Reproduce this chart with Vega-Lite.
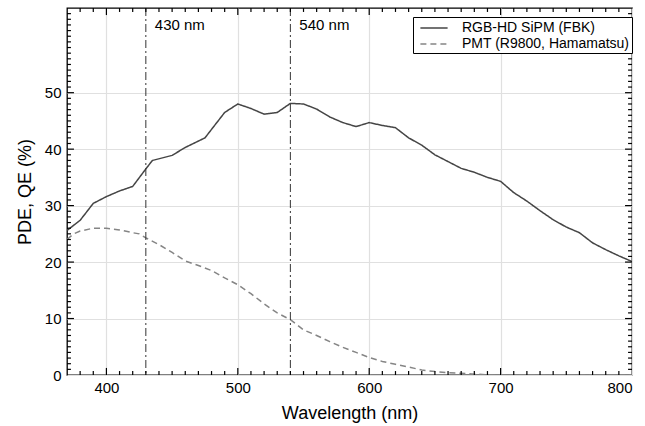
{
  "$schema": "https://vega.github.io/schema/vega-lite/v6.json",
  "width": 565,
  "height": 367,
  "autosize": {"type": "none"},
  "padding": {"left": 67, "top": 8, "right": 13, "bottom": 51},
  "config": {
    "font": "Liberation Sans",
    "view": {"stroke": "black", "strokeWidth": 1.3},
    "axis": {
      "domain": false,
      "labelColor": "black",
      "titleColor": "black",
      "labelFont": "Liberation Sans",
      "titleFont": "Liberation Sans",
      "labelFontSize": 15,
      "titleFontSize": 18,
      "titleFontWeight": "normal",
      "gridColor": "#e0e0e0",
      "gridWidth": 1.2
    }
  },
  "datasets": {
    "curves": [
      {"wavelength": 370, "value": 25.6, "series": "RGB-HD SiPM (FBK)"},
      {"wavelength": 380, "value": 27.4, "series": "RGB-HD SiPM (FBK)"},
      {"wavelength": 390, "value": 30.4, "series": "RGB-HD SiPM (FBK)"},
      {"wavelength": 400, "value": 31.6, "series": "RGB-HD SiPM (FBK)"},
      {"wavelength": 410, "value": 32.6, "series": "RGB-HD SiPM (FBK)"},
      {"wavelength": 420, "value": 33.4, "series": "RGB-HD SiPM (FBK)"},
      {"wavelength": 430, "value": 36.5, "series": "RGB-HD SiPM (FBK)"},
      {"wavelength": 435, "value": 38.0, "series": "RGB-HD SiPM (FBK)"},
      {"wavelength": 450, "value": 38.9, "series": "RGB-HD SiPM (FBK)"},
      {"wavelength": 460, "value": 40.3, "series": "RGB-HD SiPM (FBK)"},
      {"wavelength": 475, "value": 42.0, "series": "RGB-HD SiPM (FBK)"},
      {"wavelength": 490, "value": 46.5, "series": "RGB-HD SiPM (FBK)"},
      {"wavelength": 500, "value": 48.0, "series": "RGB-HD SiPM (FBK)"},
      {"wavelength": 510, "value": 47.2, "series": "RGB-HD SiPM (FBK)"},
      {"wavelength": 520, "value": 46.2, "series": "RGB-HD SiPM (FBK)"},
      {"wavelength": 530, "value": 46.5, "series": "RGB-HD SiPM (FBK)"},
      {"wavelength": 540, "value": 48.1, "series": "RGB-HD SiPM (FBK)"},
      {"wavelength": 550, "value": 48.0, "series": "RGB-HD SiPM (FBK)"},
      {"wavelength": 560, "value": 47.1, "series": "RGB-HD SiPM (FBK)"},
      {"wavelength": 570, "value": 45.7, "series": "RGB-HD SiPM (FBK)"},
      {"wavelength": 580, "value": 44.7, "series": "RGB-HD SiPM (FBK)"},
      {"wavelength": 590, "value": 44.0, "series": "RGB-HD SiPM (FBK)"},
      {"wavelength": 600, "value": 44.7, "series": "RGB-HD SiPM (FBK)"},
      {"wavelength": 610, "value": 44.2, "series": "RGB-HD SiPM (FBK)"},
      {"wavelength": 620, "value": 43.8, "series": "RGB-HD SiPM (FBK)"},
      {"wavelength": 630, "value": 42.0, "series": "RGB-HD SiPM (FBK)"},
      {"wavelength": 640, "value": 40.7, "series": "RGB-HD SiPM (FBK)"},
      {"wavelength": 650, "value": 39.0, "series": "RGB-HD SiPM (FBK)"},
      {"wavelength": 660, "value": 37.8, "series": "RGB-HD SiPM (FBK)"},
      {"wavelength": 670, "value": 36.6, "series": "RGB-HD SiPM (FBK)"},
      {"wavelength": 680, "value": 35.9, "series": "RGB-HD SiPM (FBK)"},
      {"wavelength": 690, "value": 35.0, "series": "RGB-HD SiPM (FBK)"},
      {"wavelength": 700, "value": 34.3, "series": "RGB-HD SiPM (FBK)"},
      {"wavelength": 710, "value": 32.3, "series": "RGB-HD SiPM (FBK)"},
      {"wavelength": 720, "value": 30.8, "series": "RGB-HD SiPM (FBK)"},
      {"wavelength": 730, "value": 29.1, "series": "RGB-HD SiPM (FBK)"},
      {"wavelength": 740, "value": 27.5, "series": "RGB-HD SiPM (FBK)"},
      {"wavelength": 750, "value": 26.2, "series": "RGB-HD SiPM (FBK)"},
      {"wavelength": 760, "value": 25.2, "series": "RGB-HD SiPM (FBK)"},
      {"wavelength": 770, "value": 23.4, "series": "RGB-HD SiPM (FBK)"},
      {"wavelength": 780, "value": 22.2, "series": "RGB-HD SiPM (FBK)"},
      {"wavelength": 790, "value": 21.1, "series": "RGB-HD SiPM (FBK)"},
      {"wavelength": 800, "value": 20.1, "series": "RGB-HD SiPM (FBK)"},
      {"wavelength": 370, "value": 24.0, "series": "PMT (R9800, Hamamatsu)"},
      {"wavelength": 375, "value": 25.0, "series": "PMT (R9800, Hamamatsu)"},
      {"wavelength": 380, "value": 25.5, "series": "PMT (R9800, Hamamatsu)"},
      {"wavelength": 390, "value": 26.0, "series": "PMT (R9800, Hamamatsu)"},
      {"wavelength": 400, "value": 26.0, "series": "PMT (R9800, Hamamatsu)"},
      {"wavelength": 410, "value": 25.7, "series": "PMT (R9800, Hamamatsu)"},
      {"wavelength": 420, "value": 25.2, "series": "PMT (R9800, Hamamatsu)"},
      {"wavelength": 425, "value": 25.0, "series": "PMT (R9800, Hamamatsu)"},
      {"wavelength": 430, "value": 24.3, "series": "PMT (R9800, Hamamatsu)"},
      {"wavelength": 440, "value": 23.1, "series": "PMT (R9800, Hamamatsu)"},
      {"wavelength": 450, "value": 21.7, "series": "PMT (R9800, Hamamatsu)"},
      {"wavelength": 460, "value": 20.2, "series": "PMT (R9800, Hamamatsu)"},
      {"wavelength": 470, "value": 19.4, "series": "PMT (R9800, Hamamatsu)"},
      {"wavelength": 480, "value": 18.5, "series": "PMT (R9800, Hamamatsu)"},
      {"wavelength": 490, "value": 17.2, "series": "PMT (R9800, Hamamatsu)"},
      {"wavelength": 500, "value": 16.0, "series": "PMT (R9800, Hamamatsu)"},
      {"wavelength": 510, "value": 14.4, "series": "PMT (R9800, Hamamatsu)"},
      {"wavelength": 520, "value": 12.6, "series": "PMT (R9800, Hamamatsu)"},
      {"wavelength": 530, "value": 11.0, "series": "PMT (R9800, Hamamatsu)"},
      {"wavelength": 540, "value": 9.8, "series": "PMT (R9800, Hamamatsu)"},
      {"wavelength": 550, "value": 8.0, "series": "PMT (R9800, Hamamatsu)"},
      {"wavelength": 560, "value": 7.0, "series": "PMT (R9800, Hamamatsu)"},
      {"wavelength": 570, "value": 5.9, "series": "PMT (R9800, Hamamatsu)"},
      {"wavelength": 580, "value": 4.9, "series": "PMT (R9800, Hamamatsu)"},
      {"wavelength": 590, "value": 4.0, "series": "PMT (R9800, Hamamatsu)"},
      {"wavelength": 600, "value": 3.1, "series": "PMT (R9800, Hamamatsu)"},
      {"wavelength": 610, "value": 2.4, "series": "PMT (R9800, Hamamatsu)"},
      {"wavelength": 620, "value": 1.9, "series": "PMT (R9800, Hamamatsu)"},
      {"wavelength": 630, "value": 1.4, "series": "PMT (R9800, Hamamatsu)"},
      {"wavelength": 640, "value": 0.9, "series": "PMT (R9800, Hamamatsu)"},
      {"wavelength": 650, "value": 0.6, "series": "PMT (R9800, Hamamatsu)"},
      {"wavelength": 660, "value": 0.4, "series": "PMT (R9800, Hamamatsu)"},
      {"wavelength": 670, "value": 0.3, "series": "PMT (R9800, Hamamatsu)"},
      {"wavelength": 680, "value": 0.15, "series": "PMT (R9800, Hamamatsu)"},
      {"wavelength": 690, "value": 0.05, "series": "PMT (R9800, Hamamatsu)"},
      {"wavelength": 700, "value": 0.0, "series": "PMT (R9800, Hamamatsu)"},
      {"wavelength": 750, "value": 0.0, "series": "PMT (R9800, Hamamatsu)"},
      {"wavelength": 800, "value": 0.0, "series": "PMT (R9800, Hamamatsu)"}
    ],
    "vlines": [
      {"wavelength": 430, "label": "430 nm"},
      {"wavelength": 540, "label": "540 nm"}
    ],
    "xticks": [
      {"wavelength": 380, "kind": "minor"}, {"wavelength": 390, "kind": "minor"}, {"wavelength": 400, "kind": "major"},
      {"wavelength": 410, "kind": "minor"}, {"wavelength": 420, "kind": "minor"}, {"wavelength": 430, "kind": "minor"},
      {"wavelength": 440, "kind": "minor"}, {"wavelength": 450, "kind": "minor"}, {"wavelength": 460, "kind": "minor"},
      {"wavelength": 470, "kind": "minor"}, {"wavelength": 480, "kind": "minor"}, {"wavelength": 490, "kind": "minor"},
      {"wavelength": 500, "kind": "major"}, {"wavelength": 510, "kind": "minor"}, {"wavelength": 520, "kind": "minor"},
      {"wavelength": 530, "kind": "minor"}, {"wavelength": 540, "kind": "minor"}, {"wavelength": 550, "kind": "minor"},
      {"wavelength": 560, "kind": "minor"}, {"wavelength": 570, "kind": "minor"}, {"wavelength": 580, "kind": "minor"},
      {"wavelength": 590, "kind": "minor"}, {"wavelength": 600, "kind": "major"}, {"wavelength": 610, "kind": "minor"},
      {"wavelength": 620, "kind": "minor"}, {"wavelength": 630, "kind": "minor"}, {"wavelength": 640, "kind": "minor"},
      {"wavelength": 650, "kind": "minor"}, {"wavelength": 660, "kind": "minor"}, {"wavelength": 670, "kind": "minor"},
      {"wavelength": 680, "kind": "minor"}, {"wavelength": 690, "kind": "minor"}, {"wavelength": 700, "kind": "major"},
      {"wavelength": 710, "kind": "minor"}, {"wavelength": 720, "kind": "minor"}, {"wavelength": 730, "kind": "minor"},
      {"wavelength": 740, "kind": "minor"}, {"wavelength": 750, "kind": "minor"}, {"wavelength": 760, "kind": "minor"},
      {"wavelength": 770, "kind": "minor"}, {"wavelength": 780, "kind": "minor"}, {"wavelength": 790, "kind": "minor"}
    ],
    "yticks": [
      {"value": 1, "kind": "minor"}, {"value": 2, "kind": "minor"}, {"value": 3, "kind": "minor"}, {"value": 4, "kind": "minor"},
      {"value": 5, "kind": "minor"}, {"value": 6, "kind": "minor"}, {"value": 7, "kind": "minor"}, {"value": 8, "kind": "minor"},
      {"value": 9, "kind": "minor"}, {"value": 10, "kind": "major"}, {"value": 11, "kind": "minor"}, {"value": 12, "kind": "minor"},
      {"value": 13, "kind": "minor"}, {"value": 14, "kind": "minor"}, {"value": 15, "kind": "minor"}, {"value": 16, "kind": "minor"},
      {"value": 17, "kind": "minor"}, {"value": 18, "kind": "minor"}, {"value": 19, "kind": "minor"}, {"value": 20, "kind": "major"},
      {"value": 21, "kind": "minor"}, {"value": 22, "kind": "minor"}, {"value": 23, "kind": "minor"}, {"value": 24, "kind": "minor"},
      {"value": 25, "kind": "minor"}, {"value": 26, "kind": "minor"}, {"value": 27, "kind": "minor"}, {"value": 28, "kind": "minor"},
      {"value": 29, "kind": "minor"}, {"value": 30, "kind": "major"}, {"value": 31, "kind": "minor"}, {"value": 32, "kind": "minor"},
      {"value": 33, "kind": "minor"}, {"value": 34, "kind": "minor"}, {"value": 35, "kind": "minor"}, {"value": 36, "kind": "minor"},
      {"value": 37, "kind": "minor"}, {"value": 38, "kind": "minor"}, {"value": 39, "kind": "minor"}, {"value": 40, "kind": "major"},
      {"value": 41, "kind": "minor"}, {"value": 42, "kind": "minor"}, {"value": 43, "kind": "minor"}, {"value": 44, "kind": "minor"},
      {"value": 45, "kind": "minor"}, {"value": 46, "kind": "minor"}, {"value": 47, "kind": "minor"}, {"value": 48, "kind": "minor"},
      {"value": 49, "kind": "minor"}, {"value": 50, "kind": "major"}, {"value": 51, "kind": "minor"}, {"value": 52, "kind": "minor"},
      {"value": 53, "kind": "minor"}, {"value": 54, "kind": "minor"}, {"value": 55, "kind": "minor"}, {"value": 56, "kind": "minor"},
      {"value": 57, "kind": "minor"}, {"value": 58, "kind": "minor"}, {"value": 59, "kind": "minor"}, {"value": 60, "kind": "minor"},
      {"value": 61, "kind": "minor"}, {"value": 62, "kind": "minor"}, {"value": 63, "kind": "minor"}, {"value": 64, "kind": "minor"}
    ]
  },
  "layer": [
    {
      "data": {"name": "curves"},
      "mark": {"type": "line", "strokeWidth": 1.5, "clip": true},
      "encoding": {
        "x": {
          "field": "wavelength", "type": "quantitative",
          "scale": {"domain": [370, 800], "nice": false, "zero": false},
          "axis": {"orient": "bottom", "values": [400, 500, 600, 700, 800], "grid": true, "ticks": false, "tickSize": 0, "labelPadding": 5, "title": "Wavelength (nm)", "titlePadding": 9}
        },
        "y": {
          "field": "value", "type": "quantitative",
          "scale": {"domain": [0, 65], "nice": false, "zero": true},
          "axis": {"orient": "left", "values": [0, 10, 20, 30, 40, 50], "grid": true, "ticks": false, "tickSize": 0, "labelPadding": 6, "title": "PDE, QE (%)", "titlePadding": 10}
        },
        "color": {
          "field": "series", "type": "nominal",
          "scale": {"domain": ["RGB-HD SiPM (FBK)", "PMT (R9800, Hamamatsu)"], "range": ["#454545", "#858585"]},
          "legend": {"title": null, "orient": "none", "legendX": 346, "legendY": 9, "strokeColor": "black", "fillColor": "white", "padding": 2, "cornerRadius": 0, "labelFontSize": 14, "labelFont": "Liberation Sans", "labelColor": "black", "labelLimit": 300, "symbolType": "M-1.7,0H1.7", "symbolSize": 256, "symbolStrokeWidth": 1.5, "symbolOffset": 10, "rowPadding": 0, "labelOffset": 19}
        },
        "strokeDash": {
          "field": "series", "type": "nominal",
          "scale": {"domain": ["RGB-HD SiPM (FBK)", "PMT (R9800, Hamamatsu)"], "range": [[1, 0], [6, 4]]},
          "legend": {"title": null, "orient": "none", "legendX": 346, "legendY": 9, "strokeColor": "black", "fillColor": "white", "padding": 2, "cornerRadius": 0, "labelFontSize": 14, "labelFont": "Liberation Sans", "labelColor": "black", "labelLimit": 300, "symbolType": "M-1.7,0H1.7", "symbolSize": 256, "symbolStrokeWidth": 1.5, "symbolOffset": 10, "rowPadding": 0, "labelOffset": 19}
        }
      }
    },
    {
      "data": {"name": "vlines"},
      "mark": {"type": "rule", "color": "#333333", "strokeWidth": 1, "strokeDash": [8, 3, 2, 3]},
      "encoding": {
        "x": {"field": "wavelength", "type": "quantitative", "axis": null}
      }
    },
    {
      "data": {"name": "vlines"},
      "mark": {"type": "text", "align": "left", "baseline": "middle", "dx": 9, "fontSize": 15, "font": "Liberation Sans", "color": "black"},
      "encoding": {
        "x": {"field": "wavelength", "type": "quantitative", "axis": null},
        "y": {"datum": 62.0, "axis": null},
        "text": {"field": "label"}
      }
    },
    {
      "data": {"name": "xticks"},
      "transform": [{"filter": "datum.kind === 'minor'"}],
      "mark": {"type": "rule", "color": "black", "strokeWidth": 1.2},
      "encoding": {
        "x": {"field": "wavelength", "type": "quantitative", "axis": null},
        "y": {"datum": 0, "axis": null},
        "y2": {"datum": 0.7}
      }
    },
    {
      "data": {"name": "xticks"},
      "transform": [{"filter": "datum.kind === 'major'"}],
      "mark": {"type": "rule", "color": "black", "strokeWidth": 1.2},
      "encoding": {
        "x": {"field": "wavelength", "type": "quantitative", "axis": null},
        "y": {"datum": 0, "axis": null},
        "y2": {"datum": 1.25}
      }
    },
    {
      "data": {"name": "xticks"},
      "transform": [{"filter": "datum.kind === 'minor'"}],
      "mark": {"type": "rule", "color": "black", "strokeWidth": 1.2},
      "encoding": {
        "x": {"field": "wavelength", "type": "quantitative", "axis": null},
        "y": {"datum": 65, "axis": null},
        "y2": {"datum": 64.3}
      }
    },
    {
      "data": {"name": "xticks"},
      "transform": [{"filter": "datum.kind === 'major'"}],
      "mark": {"type": "rule", "color": "black", "strokeWidth": 1.2},
      "encoding": {
        "x": {"field": "wavelength", "type": "quantitative", "axis": null},
        "y": {"datum": 65, "axis": null},
        "y2": {"datum": 63.75}
      }
    },
    {
      "data": {"name": "yticks"},
      "transform": [{"filter": "datum.kind === 'minor'"}],
      "mark": {"type": "rule", "color": "black", "strokeWidth": 1.2},
      "encoding": {
        "y": {"field": "value", "type": "quantitative", "axis": null},
        "x": {"datum": 370, "axis": null},
        "x2": {"datum": 373}
      }
    },
    {
      "data": {"name": "yticks"},
      "transform": [{"filter": "datum.kind === 'major'"}],
      "mark": {"type": "rule", "color": "black", "strokeWidth": 1.2},
      "encoding": {
        "y": {"field": "value", "type": "quantitative", "axis": null},
        "x": {"datum": 370, "axis": null},
        "x2": {"datum": 375.3}
      }
    },
    {
      "data": {"name": "yticks"},
      "transform": [{"filter": "datum.kind === 'minor'"}],
      "mark": {"type": "rule", "color": "black", "strokeWidth": 1.2},
      "encoding": {
        "y": {"field": "value", "type": "quantitative", "axis": null},
        "x": {"datum": 800, "axis": null},
        "x2": {"datum": 797}
      }
    },
    {
      "data": {"name": "yticks"},
      "transform": [{"filter": "datum.kind === 'major'"}],
      "mark": {"type": "rule", "color": "black", "strokeWidth": 1.2},
      "encoding": {
        "y": {"field": "value", "type": "quantitative", "axis": null},
        "x": {"datum": 800, "axis": null},
        "x2": {"datum": 794.7}
      }
    }
  ],
  "resolve": {"axis": {"x": "independent", "y": "independent"}}
}
